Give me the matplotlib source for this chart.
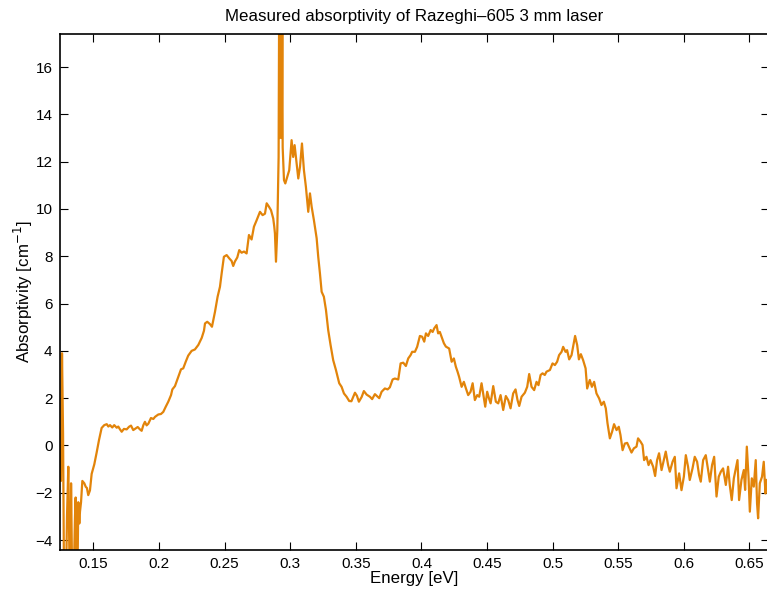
import numpy as np
import matplotlib
matplotlib.use("Agg")
import matplotlib.pyplot as plt

# photon energy [eV] and absorptivity [cm^-1]
energy = [
    0.1245, 0.1252, 0.1260, 0.1268, 0.1275, 0.1290, 0.1298, 0.1308, 0.1317, 0.1325,
    0.1329, 0.1336, 0.1348, 0.1359, 0.1364, 0.1370, 0.1377, 0.1384, 0.1392, 0.1397,
    0.1405, 0.1415, 0.1430, 0.1441, 0.1450, 0.1460, 0.1473, 0.1486, 0.1506, 0.1524,
    0.1542, 0.1562, 0.1582, 0.1601, 0.1613, 0.1626, 0.1643, 0.1658, 0.1677, 0.1689,
    0.1702, 0.1715, 0.1732, 0.1753, 0.1771, 0.1786, 0.1803, 0.1816, 0.1837, 0.1854,
    0.1867, 0.1880, 0.1892, 0.1905, 0.1918, 0.1938, 0.1956, 0.1969, 0.1994, 0.2014,
    0.2032, 0.2050, 0.2070, 0.2091, 0.2101, 0.2121, 0.2142, 0.2167, 0.2184, 0.2203,
    0.2222, 0.2248, 0.2273, 0.2299, 0.2325, 0.2342, 0.2350, 0.2367, 0.2388, 0.2403,
    0.2426, 0.2446, 0.2464, 0.2477, 0.2494, 0.2515, 0.2535, 0.2553, 0.2565, 0.2578,
    0.2596, 0.2611, 0.2629, 0.2647, 0.2667, 0.2685, 0.2705, 0.2723, 0.2744, 0.2769,
    0.2789, 0.2807, 0.2820, 0.2837, 0.2853, 0.2870, 0.2878, 0.2883, 0.2891, 0.2901,
    0.2911, 0.2916, 0.2920, 0.2923, 0.2927, 0.2931, 0.2935, 0.2939, 0.2942, 0.2952,
    0.2962, 0.2977, 0.2992, 0.3010, 0.3022, 0.3033, 0.3048, 0.3061, 0.3074, 0.3089,
    0.3104, 0.3119, 0.3137, 0.3150, 0.3163, 0.3180, 0.3201, 0.3213, 0.3226, 0.3239,
    0.3256, 0.3272, 0.3289, 0.3307, 0.3327, 0.3348, 0.3373, 0.3391, 0.3409, 0.3429,
    0.3449, 0.3466, 0.3493, 0.3508, 0.3523, 0.3544, 0.3561, 0.3582, 0.3607, 0.3624,
    0.3645, 0.3663, 0.3678, 0.3696, 0.3721, 0.3742, 0.3759, 0.3780, 0.3797, 0.3823,
    0.3841, 0.3861, 0.3881, 0.3899, 0.3917, 0.3929, 0.3950, 0.3967, 0.3988, 0.4005,
    0.4021, 0.4034, 0.4051, 0.4070, 0.4085, 0.4097, 0.4115, 0.4127, 0.4140, 0.4153,
    0.4171, 0.4186, 0.4211, 0.4230, 0.4247, 0.4262, 0.4275, 0.4287, 0.4306, 0.4323,
    0.4339, 0.4356, 0.4374, 0.4390, 0.4407, 0.4425, 0.4440, 0.4458, 0.4470, 0.4486,
    0.4501, 0.4514, 0.4527, 0.4547, 0.4567, 0.4585, 0.4603, 0.4623, 0.4643, 0.4661,
    0.4679, 0.4699, 0.4717, 0.4732, 0.4745, 0.4763, 0.4788, 0.4806, 0.4821, 0.4839,
    0.4859, 0.4877, 0.4892, 0.4908, 0.4923, 0.4940, 0.4953, 0.4979, 0.4999, 0.5017,
    0.5034, 0.5049, 0.5068, 0.5080, 0.5098, 0.5110, 0.5126, 0.5144, 0.5156, 0.5171,
    0.5187, 0.5200, 0.5215, 0.5232, 0.5251, 0.5263, 0.5283, 0.5299, 0.5316, 0.5334,
    0.5354, 0.5372, 0.5390, 0.5405, 0.5418, 0.5436, 0.5453, 0.5468, 0.5487, 0.5504,
    0.5517, 0.5533, 0.5550, 0.5568, 0.5583, 0.5601, 0.5619, 0.5639, 0.5651, 0.5670,
    0.5685, 0.5697, 0.5715, 0.5731, 0.5746, 0.5766, 0.5781, 0.5796, 0.5811, 0.5830,
    0.5847, 0.5862, 0.5880, 0.5893, 0.5914, 0.5931, 0.5944, 0.5964, 0.5982, 0.6000,
    0.6015, 0.6032, 0.6045, 0.6066, 0.6083, 0.6101, 0.6116, 0.6129, 0.6147, 0.6167,
    0.6185, 0.6198, 0.6215, 0.6231, 0.6249, 0.6266, 0.6282, 0.6299, 0.6320, 0.6337,
    0.6350, 0.6365, 0.6381, 0.6396, 0.6409, 0.6421, 0.6439, 0.6457, 0.6467, 0.6480,
    0.6493, 0.6503, 0.6518, 0.6533, 0.6548, 0.6558, 0.6566, 0.6579, 0.6596, 0.6609,
    0.6622, 0.6632,
]
absorptivity = [
    -0.9, -1.5, 3.9, 0.5, -5.5, -6.0, -3.0, -0.9, -5.0, -6.0,
    -1.6, -5.0, -6.0, -3.0, -2.2, -5.5, -6.0, -2.4, -3.3, -2.8,
    -2.4, -1.5, -1.6, -1.75, -1.8, -2.1, -1.9, -1.2, -0.8, -0.3,
    0.23, 0.74, 0.86, 0.9, 0.8, 0.86, 0.76, 0.86, 0.75, 0.8,
    0.68, 0.58, 0.7, 0.68, 0.79, 0.84, 0.65, 0.7, 0.78, 0.68,
    0.62, 0.86, 1.0, 0.85, 0.92, 1.16, 1.12, 1.21, 1.31, 1.33,
    1.42, 1.63, 1.85, 2.13, 2.37, 2.51, 2.84, 3.22, 3.26, 3.54,
    3.8, 4.0, 4.06, 4.25, 4.55, 4.85, 5.16, 5.23, 5.13, 5.02,
    5.65, 6.29, 6.71, 7.28, 7.98, 8.05, 7.91, 7.8, 7.59, 7.78,
    7.95, 8.26, 8.15, 8.2, 8.12, 8.9, 8.71, 9.25, 9.53, 9.88,
    9.74, 9.8, 10.24, 10.1, 9.95, 9.6, 9.25, 8.97, 7.77, 9.1,
    12.2, 20.0, 13.0, 21.0, 14.0, 19.0, 13.0, 17.8, 12.6, 11.22,
    11.08, 11.36, 11.64, 12.91, 12.2, 12.7, 11.93, 11.29, 11.78, 12.77,
    11.64, 10.94, 9.88, 10.66, 10.09, 9.53, 8.76, 7.98, 7.28, 6.5,
    6.29, 5.73, 4.88, 4.25, 3.61, 3.19, 2.63, 2.48, 2.2, 2.06,
    1.88, 1.87, 2.23, 2.1, 1.85, 2.05, 2.3, 2.15, 2.06, 1.96,
    2.17, 2.08, 2.0, 2.27, 2.41, 2.37, 2.46, 2.79, 2.83, 2.79,
    3.47, 3.5, 3.36, 3.68, 3.82, 3.96, 3.96, 4.17, 4.63, 4.6,
    4.39, 4.74, 4.63, 4.88, 4.8, 4.95, 5.09, 4.74, 4.8, 4.6,
    4.32, 4.18, 4.1, 3.54, 3.68, 3.33, 3.12, 2.9, 2.48, 2.69,
    2.41, 2.13, 2.27, 2.63, 1.92, 2.13, 2.06, 2.63, 2.2, 1.64,
    2.27, 2.0, 1.78, 2.51, 1.85, 1.78, 2.13, 1.5, 2.09, 1.92,
    1.57, 2.2, 2.37, 1.92, 1.67, 2.06, 2.23, 2.48, 3.02, 2.48,
    2.34, 2.69, 2.55, 2.98, 3.05, 2.98, 3.12, 3.19, 3.47, 3.4,
    3.54, 3.82, 3.96, 4.17, 3.96, 4.03, 3.64, 3.82, 4.17, 4.63,
    4.24, 3.64, 3.86, 3.61, 3.26, 2.41, 2.77, 2.48, 2.69, 2.2,
    1.99, 1.71, 1.85, 1.57, 0.94, 0.3, 0.58, 0.9, 0.65, 0.79,
    0.44, -0.2, 0.08, 0.11, -0.08, -0.3, -0.12, -0.05, 0.3, 0.16,
    0.02, -0.62, -0.48, -0.83, -0.62, -0.9, -1.29, -0.62, -0.33, -1.04,
    -0.62, -0.26, -0.83, -1.11, -0.69, -0.48, -1.81, -1.18, -1.89, -1.32,
    -0.41, -0.9, -1.46, -0.97, -0.48, -0.69, -1.25, -1.53, -0.62, -0.41,
    -1.04, -1.53, -0.83, -0.48, -2.16, -1.32, -1.11, -0.97, -1.67, -0.9,
    -1.67, -2.31, -1.39, -0.97, -0.62, -2.31, -1.46, -1.04, -1.88, -0.05,
    -1.32, -2.8, -1.39, -1.74, -0.62, -2.45, -3.08, -1.6, -1.32, -0.69,
    -2.03, -1.46,
]

x_ticks = [0.15, 0.2, 0.25, 0.3, 0.35, 0.4, 0.45, 0.5, 0.55, 0.6, 0.65]
x_ticklabels = ["0.15", "0.2", "0.25", "0.3", "0.35", "0.4", "0.45", "0.5", "0.55", "0.6", "0.65"]
y_ticks = [-4, -2, 0, 2, 4, 6, 8, 10, 12, 14, 16]

plt.rcParams["font.family"] = ["Liberation Sans", "DejaVu Sans"]
plt.rcParams["font.size"] = 11

fig = plt.figure(figsize=(7.67, 5.91), dpi=100)
ax = fig.add_axes([0.0776, 0.0694, 0.925, 0.8731])

ax.plot(energy, absorptivity, color="#e2840a", linewidth=1.6)

ax.set_xlim(0.1241, 0.6649)
ax.set_ylim(-4.42, 17.40)
ax.set_xticks(x_ticks)
ax.set_xticklabels(x_ticklabels)
ax.set_yticks(y_ticks)
ax.tick_params(direction="in", length=6, width=0.8, top=True, right=True, pad=5)
for sp in ax.spines.values():
    sp.set_linewidth(1.2)

ax.set_title("Measured absorptivity of Razeghi\u2013605 3 mm laser", fontsize=12.2, pad=9)
ax.set_xlabel("Energy [eV]", fontsize=12.2, labelpad=0)
ax.set_ylabel("Absorptivity [cm$^{-1}$]", fontsize=12.2, labelpad=0)

fig.savefig("out.png", dpi=100)
